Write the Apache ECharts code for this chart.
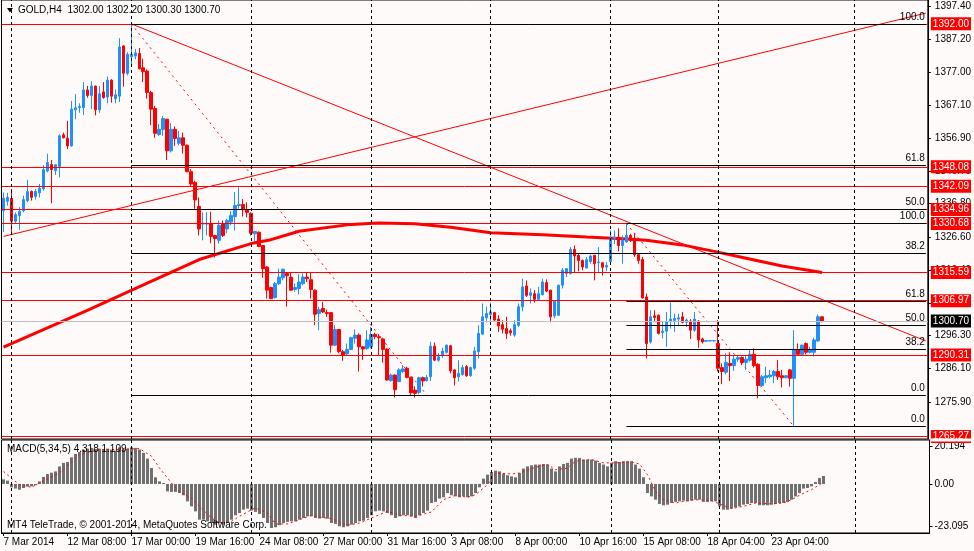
<!DOCTYPE html>
<html>
<head>
<meta charset="utf-8">
<title>GOLD,H4</title>
<script src="https://cdn.jsdelivr.net/npm/echarts@6.0.0/dist/echarts.min.js"></script>
<style>
html, body { margin: 0; padding: 0; background: #fffafa; }
#chart { width: 974px; height: 551px; }
</style>
</head>
<body>
<div id="chart"></div>
<script>
// bars: [open, high, low, close]
var ohlc = [
  [1334.6,1340.2,1328.0,1338.4],[1337.5,1340.1,1336.2,1338.7],[1338.4,1341.3,1327.5,1331.4],[1331.4,1334.1,1330.6,1333.4],
  [1333.1,1335.7,1328.7,1334.4],[1334.6,1339.2,1334.1,1338.0],[1337.7,1344.1,1337.2,1340.5],[1340.5,1340.8,1337.7,1338.7],
  [1339.0,1341.3,1338.0,1340.5],[1340.1,1342.8,1338.7,1341.5],[1341.3,1348.6,1340.8,1347.2],[1346.8,1352.1,1346.4,1349.4],
  [1348.8,1350.2,1336.9,1347.2],[1346.9,1348.9,1345.6,1348.7],[1348.2,1358.1,1344.8,1357.6],[1357.9,1358.6,1356.8,1357.0],
  [1356.9,1362.2,1353.5,1354.5],[1354.5,1368.3,1354.3,1365.8],[1365.6,1370.4,1362.7,1366.2],[1366.3,1367.6,1364.7,1366.6],
  [1366.3,1374.1,1364.0,1371.7],[1371.7,1372.9,1369.3,1370.0],[1370.0,1374.4,1365.8,1372.9],[1372.9,1373.0,1363.9,1365.6],
  [1365.6,1372.9,1364.7,1370.5],[1371.1,1374.1,1369.0,1369.4],[1369.5,1375.8,1367.6,1374.7],[1374.7,1375.0,1367.8,1369.8],
  [1369.0,1371.9,1367.6,1370.2],[1369.8,1387.6,1368.0,1384.9],[1385.2,1385.4,1372.7,1376.8],[1376.8,1383.3,1376.2,1382.7],
  [1381.9,1392.0,1378.8,1382.7],[1382.1,1384.3,1381.1,1383.1],[1382.9,1384.6,1378.0,1378.2],[1378.5,1381.3,1374.1,1377.3],
  [1377.5,1378.0,1369.0,1370.9],[1370.9,1371.4,1360.9,1365.8],[1366.0,1366.8,1357.0,1358.4],[1358.0,1361.2,1357.6,1359.6],
  [1359.6,1363.7,1357.6,1362.9],[1362.7,1362.8,1350.2,1353.0],[1353.0,1361.5,1352.5,1359.6],[1359.6,1360.5,1354.5,1356.8],
  [1355.3,1359.1,1354.7,1357.0],[1357.0,1358.6,1352.2,1354.7],[1354.7,1354.9,1346.4,1346.6],[1346.6,1347.4,1342.1,1342.8],
  [1343.3,1343.8,1335.2,1337.9],[1335.9,1338.7,1327.0,1329.0],[1330.5,1334.1,1325.5,1330.7],[1330.5,1334.1,1327.0,1330.7],
  [1330.7,1334.3,1324.6,1326.7],[1327.0,1327.2,1320.2,1326.0],[1325.5,1331.6,1324.5,1330.1],[1330.6,1331.6,1326.5,1327.0],
  [1329.0,1332.1,1327.7,1331.6],[1331.1,1334.5,1330.1,1333.1],[1332.8,1340.3,1328.5,1336.2],[1336.2,1341.8,1335.2,1336.5],
  [1336.5,1338.2,1332.8,1334.9],[1334.9,1337.2,1332.6,1334.1],[1333.8,1334.1,1327.0,1327.7],[1327.5,1328.5,1325.0,1328.2],
  [1328.0,1328.2,1323.4,1323.6],[1323.9,1324.0,1314.0,1316.8],[1317.3,1317.5,1307.6,1310.2],[1311.0,1311.2,1307.4,1307.6],
  [1307.9,1312.7,1307.6,1312.2],[1312.2,1316.8,1311.7,1314.2],[1314.0,1316.8,1313.2,1316.6],[1315.3,1315.5,1305.1,1314.6],
  [1314.2,1315.8,1310.0,1310.2],[1310.4,1312.2,1309.7,1311.0],[1310.7,1315.1,1308.9,1312.7],[1312.2,1315.3,1311.7,1314.2],
  [1314.2,1315.8,1312.7,1313.7],[1313.4,1315.8,1307.6,1310.4],[1310.2,1310.4,1299.4,1302.8],[1303.0,1305.1,1297.9,1304.2],
  [1304.6,1306.6,1303.2,1303.5],[1303.3,1304.2,1302.0,1303.0],[1303.3,1303.5,1291.0,1293.3],[1293.3,1299.4,1293.0,1298.1],
  [1298.1,1298.3,1290.8,1291.3],[1291.3,1291.8,1288.5,1290.3],[1290.6,1293.8,1290.3,1292.0],[1292.0,1295.9,1291.8,1295.6],
  [1295.4,1298.1,1293.8,1296.4],[1296.4,1296.9,1285.2,1292.8],[1292.8,1293.0,1288.7,1292.1],[1292.3,1297.9,1291.8,1294.9],
  [1292.8,1298.9,1292.3,1296.6],[1296.6,1297.1,1295.1,1295.9],[1295.9,1296.4,1290.3,1295.6],[1295.2,1295.6,1287.9,1292.0],
  [1292.1,1292.3,1282.4,1282.6],[1282.4,1284.6,1282.1,1284.1],[1284.1,1284.3,1277.2,1279.6],[1282.1,1286.2,1282.0,1285.7],
  [1285.2,1287.2,1284.7,1286.0],[1286.2,1286.7,1283.1,1283.4],[1283.4,1283.6,1278.0,1278.7],[1279.5,1280.6,1277.2,1278.5],
  [1278.8,1283.6,1278.2,1283.3],[1283.3,1283.6,1280.6,1282.3],[1282.4,1284.1,1282.1,1283.4],[1283.6,1294.3,1282.3,1293.0],
  [1293.0,1294.1,1288.4,1288.7],[1288.7,1290.8,1288.2,1289.7],[1290.1,1292.5,1289.4,1291.5],[1291.1,1293.5,1290.8,1293.3],
  [1293.1,1293.3,1284.6,1285.4],[1285.7,1286.0,1280.9,1283.3],[1283.6,1288.7,1282.1,1284.6],[1284.3,1287.2,1283.9,1286.4],
  [1286.7,1287.2,1283.6,1283.9],[1283.9,1286.7,1283.6,1286.4],[1286.2,1292.8,1285.7,1291.5],[1291.3,1299.4,1289.2,1296.9],
  [1296.7,1306.1,1296.4,1302.0],[1301.7,1305.1,1300.3,1303.0],[1302.7,1306.4,1300.5,1303.5],[1303.3,1303.5,1300.5,1301.0],
  [1301.3,1302.5,1297.4,1299.2],[1299.6,1301.0,1296.9,1298.2],[1298.4,1302.0,1295.2,1296.9],[1297.7,1298.4,1296.2,1297.1],
  [1296.4,1301.0,1295.9,1299.6],[1299.4,1306.1,1298.9,1305.1],[1305.1,1313.7,1303.7,1311.2],[1311.5,1313.2,1308.1,1308.6],
  [1308.6,1310.7,1306.1,1309.4],[1309.1,1310.2,1306.4,1307.4],[1307.4,1311.2,1307.2,1309.1],[1308.8,1313.7,1308.6,1312.7],
  [1312.5,1313.5,1309.6,1309.9],[1310.2,1310.3,1300.3,1302.0],[1302.3,1307.1,1301.5,1306.8],[1302.5,1311.9,1302.3,1311.7],
  [1311.7,1317.0,1310.7,1316.3],[1315.3,1317.0,1314.2,1316.8],[1315.3,1323.4,1315.0,1322.7],[1322.7,1323.9,1315.6,1320.7],
  [1320.9,1321.4,1316.0,1319.3],[1319.3,1319.6,1316.3,1317.3],[1317.0,1320.4,1316.8,1319.6],[1319.0,1321.1,1318.3,1320.7],
  [1320.9,1321.0,1313.2,1318.3],[1318.6,1323.4,1315.8,1318.8],[1318.6,1318.8,1314.7,1317.2],[1317.3,1318.8,1316.0,1317.8],
  [1319.0,1328.5,1318.8,1326.0],[1326.0,1328.5,1324.4,1326.5],[1326.5,1329.2,1322.1,1323.9],[1323.9,1327.0,1318.3,1325.5],
  [1325.0,1330.6,1324.8,1327.0],[1327.0,1327.5,1325.0,1325.5],[1326.2,1327.5,1320.4,1321.1],[1321.1,1321.4,1318.3,1319.3],
  [1319.6,1320.4,1307.6,1307.8],[1308.1,1309.1,1289.2,1293.8],[1294.3,1304.0,1293.8,1302.0],[1302.3,1304.0,1300.5,1301.8],
  [1302.5,1302.7,1296.6,1296.9],[1297.2,1300.7,1295.4,1297.6],[1297.6,1303.5,1292.8,1300.5],[1300.5,1306.4,1298.4,1301.3],
  [1300.9,1303.0,1297.4,1301.5],[1301.3,1303.0,1299.4,1301.7],[1302.0,1303.5,1300.0,1300.3],[1300.3,1301.5,1298.9,1301.0],
  [1300.7,1301.3,1295.2,1297.9],[1297.9,1303.5,1297.4,1301.3],[1300.7,1301.0,1292.5,1294.9],[1295.2,1295.6,1293.8,1294.3],
  [1294.5,1294.8,1294.4,1294.7],[1294.6,1294.8,1294.4,1294.7],[1294.6,1294.8,1294.4,1294.7],[1293.8,1301.0,1285.2,1286.2],
  [1286.4,1287.7,1281.3,1285.2],[1285.0,1290.8,1284.3,1288.0],[1287.7,1291.1,1282.3,1287.0],[1287.0,1290.3,1285.4,1289.0],
  [1289.0,1290.3,1288.2,1289.5],[1289.5,1289.8,1287.2,1288.0],[1288.0,1290.1,1285.7,1289.0],[1288.7,1292.1,1288.2,1290.5],
  [1290.5,1292.3,1286.4,1287.0],[1287.4,1287.7,1277.0,1280.9],[1280.9,1284.1,1280.6,1283.6],[1283.3,1286.7,1281.6,1283.9],
  [1283.6,1285.7,1283.1,1284.1],[1283.9,1285.7,1281.6,1285.2],[1285.2,1288.7,1282.6,1283.6],[1283.9,1285.7,1280.3,1283.3],
  [1283.3,1284.1,1283.1,1283.9],[1285.7,1286.0,1280.6,1283.1],[1283.1,1297.9,1268.3,1291.8],[1291.8,1293.8,1290.3,1290.5],
  [1290.5,1293.5,1290.3,1293.3],[1293.8,1294.1,1290.5,1291.1],[1291.1,1292.8,1290.8,1291.8],[1291.1,1295.6,1289.8,1294.9],
  [1294.6,1302.7,1294.3,1302.0],[1302.0,1302.2,1300.3,1300.7]
];

// MACD(5,34,5) histogram, one value per bar
var macdHist = [
  2.5,1.8,-1.8,-2.5,-3.1,-2.2,-1.4,-1.3,-0.7,1.4,
  3.8,5.4,6.1,6.8,9.5,11.4,11.9,14.4,16.2,17.3,
  18.6,19.1,19.5,18.9,19.1,18.6,19.1,18.6,18.0,19.8,
  18.6,19.1,19.8,19.5,18.6,16.8,13.7,8.6,3.6,1.4,
  0.5,-4.0,-4.3,-4.3,-4.9,-6.1,-9.4,-12.1,-14.8,-19.3,
  -19.3,-20.2,-21.1,-22.0,-21.1,-22.0,-21.1,-19.3,-16.9,-15.7,
  -13.9,-13.3,-14.4,-15.1,-16.2,-18.4,-21.1,-23.8,-23.4,-22.3,
  -21.1,-20.5,-20.2,-20.2,-19.3,-18.4,-17.5,-17.5,-18.4,-18.7,
  -18.4,-18.7,-21.1,-21.6,-22.9,-23.4,-22.9,-22.0,-21.1,-20.2,
  -19.8,-18.4,-16.9,-14.8,-14.4,-14.8,-15.7,-16.9,-18.4,-17.5,
  -16.9,-16.9,-17.5,-18.4,-16.9,-15.7,-14.4,-10.3,-9.7,-7.9,
  -7.2,-4.9,-6.1,-6.7,-7.2,-6.7,-7.2,-6.7,-4.9,-1.8,
  2.9,5.0,6.5,7.2,6.8,5.4,4.7,4.1,3.6,5.9,
  8.3,9.5,10.1,10.5,10.5,10.8,10.5,8.3,6.8,9.5,
  10.8,11.4,13.7,14.1,14.1,13.2,13.2,13.2,12.6,11.4,
  10.5,9.5,11.4,12.3,11.9,12.3,12.3,12.3,10.5,8.3,
  3.6,-4.9,-6.7,-8.5,-10.8,-11.5,-11.2,-10.3,-9.7,-9.4,
  -9.0,-9.4,-9.0,-8.5,-8.5,-9.7,-9.7,-9.4,-9.4,-12.1,
  -13.9,-13.9,-13.3,-12.6,-12.1,-11.2,-10.8,-10.3,-10.3,-11.5,
  -11.5,-11.5,-11.2,-10.8,-10.3,-10.3,-9.7,-8.5,-6.7,-4.9,
  -2.5,-2.2,-1.3,1.1,3.2,4.318
];

// signal line, read at [bar, value]
var macdSignal = [
  [0,6.8],[2,3.0],[4,-0.4],[7,-1.8],[9,0.5],[14,5.9],[19,15.9],[24,18.6],[29,18.6],[34,19.1],
  [37,15.0],[39,8.6],[42,0.5],[44,-4.3],[47,-7.6],[49,-12.1],[52,-18.4],[54,-21.1],[57,-20.2],[59,-17.5],
  [62,-13.9],[63,-13.0],[66,-15.7],[68,-21.6],[71,-21.6],[74,-19.3],[77,-16.9],[79,-18.0],[82,-18.7],[86,-22.3],
  [89,-21.1],[92,-18.4],[96,-14.8],[99,-16.9],[103,-17.5],[107,-15.1],[110,-8.5],[113,-6.1],[116,-7.2],[118,-5.8],
  [121,-0.4],[123,5.9],[127,5.4],[129,5.9],[133,9.0],[136,10.5],[138,7.7],[141,8.6],[143,12.3],[147,13.2],
  [150,11.4],[153,11.4],[157,11.9],[159,10.8],[161,5.0],[163,-4.0],[165,-8.5],[168,-10.3],[171,-9.0],[173,-8.5],
  [177,-9.0],[179,-10.8],[182,-13.3],[185,-12.1],[188,-10.3],[192,-10.8],[195,-10.3],[197,-8.5],[199,-6.1],[202,-3.1],
  [204,-0.4],[205,1.109]
];

// slow moving average, read at [bar, price]
var maPoints = [
  [0,1292.7],[21,1304.0],[32,1310.1],[49,1319.6],[62,1324.5],[67,1325.7],[74,1328.3],[87,1330.4],
  [94,1330.8],[103,1330.6],[112,1329.5],[122,1327.8],[135,1327.2],[146,1326.5],[155,1326.0],[161,1325.5],
  [170,1324.1],[178,1322.1],[186,1320.0],[195,1317.6],[205,1315.6]
];

var timeLabels = ['7 Mar 2014','12 Mar 08:00','17 Mar 00:00','19 Mar 16:00','24 Mar 08:00','27 Mar 00:00',
  '31 Mar 16:00','3 Apr 08:00','8 Apr 00:00','10 Apr 16:00','15 Apr 08:00','18 Apr 04:00','23 Apr 04:00'];
var labelStep = 16;
var weekLines = [2, 32, 62, 92, 122, 152, 179, 213];
var barCount = 232;

var priceTicks = [1397.40,1387.20,1377.00,1367.10,1356.90,1346.70,1336.80,1326.60,1316.40,1306.20,1296.30,1286.10,1275.90];
var macdTicks = [20.194, 0, -23.095];

var redLevels = [1392.00, 1348.08, 1342.09, 1334.96, 1330.68, 1315.59, 1306.97, 1290.31, 1265.27];
var lastPrice = 1300.70;

var fibLevels = [100, 61.8, 50, 38.2, 0];
var fibA = { from: 32, high: 1392.00, low: 1277.92 };
var fibB = { from: 156, high: 1330.68, low: 1268.30 };

var trendDown = [[32, 1392.0], [231, 1294.6]];
var trendUp = [[0, 1326.7], [231, 1395.3]];
var fibDashA = [[32, 1392.0], [106, 1277.92]];
var fibDashB = [[156, 1330.68], [198, 1268.30]];

var FONT = "'Liberation Sans', Arial, sans-serif";
var chart = echarts.init(document.getElementById('chart'));

var cats = [];
for (var i = 0; i < barCount; i++) cats.push(String(i));

function isLabelBar(idx) {
  return idx % labelStep === 0 && idx / labelStep < timeLabels.length;
}

var candles = ohlc.map(function (b) { return [b[0], b[3], b[2], b[1]]; });

// horizontal levels with the price boxes on the right
var levelLines = redLevels.map(function (v) {
  return {
    yAxis: v,
    lineStyle: { color: '#ff0000', width: 1, type: 'solid' },
    label: { show: true, position: 'end', formatter: v.toFixed(2), backgroundColor: '#ff0000', color: '#fff' }
  };
});
levelLines.push({
  yAxis: lastPrice,
  lineStyle: { color: '#c0c0c0', width: 1, type: 'solid' },
  label: { show: true, position: 'end', formatter: lastPrice.toFixed(2), backgroundColor: '#000', color: '#fff' }
});

function fibLines(f) {
  return fibLevels.map(function (lv) {
    var v = f.low + (f.high - f.low) * lv / 100;
    return [
      { coord: [f.from, v], lineStyle: { color: '#000', width: 1, type: 'solid' },
        label: { show: true, position: 'insideEndTop', formatter: lv.toFixed(1), color: '#000',
                 backgroundColor: 'transparent', padding: 0, distance: 1 } },
      { coord: [barCount - 1, v] }
    ];
  });
}

var weekMarks = weekLines.map(function (b) { return { xAxis: b }; });
var weekLineStyle = { color: '#000', width: 1, type: [3, 3] };

function thinLine(name, pts, dashed) {
  return {
    name: name, type: 'line', xAxisIndex: 0, yAxisIndex: 0, data: pts,
    symbol: 'none', silent: true, z: 2,
    lineStyle: { color: '#ff0000', width: 1, type: dashed ? [2, 4] : 'solid' }
  };
}

var option = {
  animation: false,
  backgroundColor: '#fffafa',
  textStyle: { fontFamily: FONT },
  grid: [
    { left: 1.5, right: 44.5, top: -1, height: 440, show: true, borderColor: '#000', borderWidth: 1 },
    { left: 1.5, right: 44.5, top: 440, height: 93, show: true, borderColor: '#000', borderWidth: 1 }
  ],
  xAxis: [
    { type: 'category', gridIndex: 0, data: cats,
      axisLine: { show: false }, axisTick: { show: false }, axisLabel: { show: false }, splitLine: { show: false } },
    { type: 'category', gridIndex: 1, data: cats,
      axisLine: { show: true, onZero: false, lineStyle: { color: '#000' } },
      axisTick: { show: true, alignWithLabel: true, length: 3, interval: function (idx) { return isLabelBar(idx); },
                  lineStyle: { color: '#000' } },
      axisLabel: { show: true, interval: function (idx) { return isLabelBar(idx); }, align: 'left',
                   margin: 4, color: '#000', fontSize: 10, fontFamily: FONT,
                   formatter: function (v, idx) { return timeLabels[idx / labelStep] || ''; } },
      splitLine: { show: false } }
  ],
  yAxis: [
    { type: 'value', gridIndex: 0, position: 'right', min: 1264.47, max: 1399.33,
      axisLine: { show: true, lineStyle: { color: '#000' } },
      axisTick: { show: true, length: 3, customValues: priceTicks, lineStyle: { color: '#000' } },
      axisLabel: { show: true, customValues: priceTicks, margin: 7, color: '#000', fontSize: 10, fontFamily: FONT,
                   formatter: function (v) { return v.toFixed(2); } },
      splitLine: { show: false } },
    { type: 'value', gridIndex: 1, position: 'right', min: -26.50, max: 23.76,
      axisLine: { show: true, lineStyle: { color: '#000' } },
      axisTick: { show: true, length: 3, customValues: macdTicks, lineStyle: { color: '#000' } },
      axisLabel: { show: true, customValues: macdTicks, margin: 5, color: '#000', fontSize: 10, fontFamily: FONT,
                   formatter: function (v) { return v === 0 ? '0.00' : String(v); } },
      splitLine: { show: false } }
  ],
  series: [
    { name: 'levels', type: 'line', xAxisIndex: 0, yAxisIndex: 0, data: [], z: 1, silent: true,
      markLine: {
        silent: true, symbol: ['none', 'none'], animation: false,
        label: { fontSize: 10, fontFamily: FONT, padding: [1, 2, 0, 2], lineHeight: 12, distance: 3 },
        data: levelLines.concat(fibLines(fibA), fibLines(fibB),
          weekMarks.map(function (m) { return { xAxis: m.xAxis, lineStyle: weekLineStyle, label: { show: false } }; }))
      } },
    { name: 'MA', type: 'line', xAxisIndex: 0, yAxisIndex: 0, data: maPoints, symbol: 'none', silent: true, z: 2,
      lineStyle: { color: '#ff0000', width: 3 } },
    thinLine('trendDown', trendDown, false),
    thinLine('trendUp', trendUp, false),
    thinLine('fibDashA', fibDashA, true),
    thinLine('fibDashB', fibDashB, true),
    { name: 'GOLD,H4', type: 'candlestick', xAxisIndex: 0, yAxisIndex: 0, data: candles, z: 3,
      barWidth: 3, silent: true,
      itemStyle: { color: '#1e90ff', color0: '#ff0000', borderColor: '#1e90ff', borderColor0: '#ff0000', borderWidth: 1 } },
    { name: 'MACD', type: 'bar', xAxisIndex: 1, yAxisIndex: 1, data: macdHist, barWidth: 3, silent: true, z: 2,
      itemStyle: { color: '#707070' },
      markLine: { silent: true, symbol: ['none', 'none'], animation: false, label: { show: false },
        lineStyle: weekLineStyle, data: weekMarks } },
    { name: 'Signal', type: 'line', xAxisIndex: 1, yAxisIndex: 1, data: macdSignal, symbol: 'none', silent: true, z: 3,
      lineStyle: { color: '#ff0000', width: 1, type: [2, 3] } }
  ],
  graphic: { elements: [
    { type: 'rect', shape: { x: 931, y: 438.5, width: 43, height: 3 }, style: { fill: '#fffafa' }, z: 100 },
    { type: 'polygon', shape: { points: [[7, 8], [13, 8], [10, 12.5]] }, style: { fill: '#000' }, z: 100 },
    { type: 'text', x: 18, y: 5, z: 100,
      style: { text: 'GOLD,H4  ' + ohlc[ohlc.length - 1].map(function (v) { return v.toFixed(2); }).join(' '),
               fill: '#000', font: '10px ' + FONT } },
    { type: 'text', x: 7, y: 444, z: 100,
      style: { text: 'MACD(5,34,5) ' + macdHist[macdHist.length - 1].toFixed(3) + ' ' +
               macdSignal[macdSignal.length - 1][1].toFixed(3), fill: '#000', font: '10px ' + FONT } },
    { type: 'text', x: 7, y: 520, z: 100,
      style: { text: 'MT4 TeleTrade, \u00a9 2001-2014, MetaQuotes Software Corp.', fill: '#000', font: '10px ' + FONT } }
  ] }
};

chart.setOption(option);
</script>
</body>
</html>
